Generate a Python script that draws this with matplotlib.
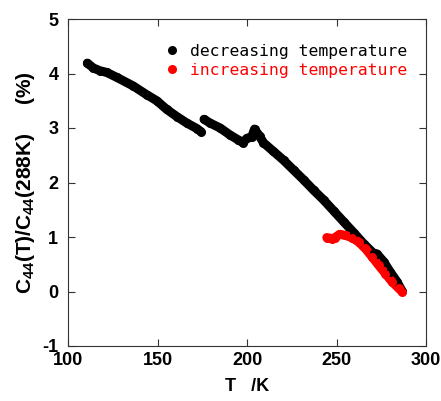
import numpy as np
import matplotlib
matplotlib.use("Agg")
import matplotlib.pyplot as plt

plt.rcParams['mathtext.fontset'] = 'custom'
plt.rcParams['mathtext.rm'] = 'Liberation Sans:bold'
plt.rcParams['mathtext.bf'] = 'Liberation Sans:bold'
plt.rcParams['mathtext.it'] = 'Liberation Sans:bold'
plt.rcParams['axes.unicode_minus'] = False

# decreasing temperature run (NaN separates the gap near 175 K)
T_dec = [110.8, 114.2, 117.9, 121.6, 127.2, 136.5, 144.0, 149.6, 155.2, 160.8,
         166.4, 172.0, 174.4, np.nan,
         176.0, 179.4, 185.0, 190.6, 195.2, 197.7, 199.9, 202.7, 204.2, 207.0,
         209.2, 214.8, 220.4, 226.0, 231.6, 237.2, 242.8, 248.4, 254.0, 259.6,
         265.1, 270.7, 272.6, 276.3, 280.0, 283.8, 286.6]
C_dec = [4.19, 4.10, 4.05, 4.02, 3.93, 3.77, 3.61, 3.50, 3.34, 3.21,
         3.09, 2.99, 2.93, np.nan,
         3.16, 3.09, 3.00, 2.87, 2.78, 2.73, 2.81, 2.84, 2.98, 2.85,
         2.73, 2.57, 2.41, 2.23, 2.05, 1.86, 1.68, 1.48, 1.28, 1.08,
         0.88, 0.70, 0.69, 0.55, 0.36, 0.18, 0.01]

# increasing temperature run
T_inc = [244.6, 247.4, 249.3, 251.7, 254.9, 258.6, 262.3, 266.1, 269.8, 273.6,
         277.3, 281.0, 284.7, 286.6]
C_inc = [0.99, 0.97, 0.99, 1.05, 1.03, 0.99, 0.91, 0.79, 0.64, 0.48,
         0.33, 0.18, 0.06, 0.00]

labels = ['decreasing temperature', 'increasing temperature']
colors = ['black', 'red']

fig = plt.figure(figsize=(4.41, 4.01), dpi=100)
ax = fig.add_axes([68/441, 1-346/401, (426-68)/441, (346-19)/401])

for T, C, col, lab in [(T_dec, C_dec, colors[0], labels[0]),
                       (T_inc, C_inc, colors[1], labels[1])]:
    ax.plot(T, C, '-', color=col, lw=6.5, solid_capstyle='round',
            solid_joinstyle='round', zorder=2)
    ax.plot(T, C, 'o', color=col, ms=6.5, mew=0, ls='none', label=lab, zorder=3)

ax.set_xlim(100, 300)
ax.set_ylim(-1, 5)
ax.set_xticks([100, 150, 200, 250, 300])
ax.set_yticks([-1, 0, 1, 2, 3, 4, 5])
ax.tick_params(direction='in', length=5, width=0.8, top=True, right=True,
               labelsize=13, color='#333333')
ax.tick_params(axis='y', pad=7)
ax.tick_params(axis='x', pad=4)
for t in ax.get_xticklabels() + ax.get_yticklabels():
    t.set_fontfamily('Liberation Sans')
    t.set_fontweight('bold')
for s in ax.spines.values():
    s.set_linewidth(0.8)
    s.set_color('#333333')

ax.set_xlabel('T   /K', fontsize=13, fontweight='bold', family='Liberation Sans',
              labelpad=7)
ax.set_ylabel(r'$\mathrm{C_{44}(T)/C_{44}(288K)}$     (%)', fontsize=15,
              fontweight='bold', family='Liberation Sans', labelpad=4)

leg = ax.legend(loc='upper left', bbox_to_anchor=(165/441, 1-44/401),
                bbox_transform=fig.transFigure, frameon=False,
                prop={'family': 'DejaVu Sans Mono', 'size': 11.8},
                handlelength=0.8, handletextpad=0.75, labelspacing=0.25,
                borderaxespad=0, borderpad=0)
for txt, col in zip(leg.get_texts(), colors):
    txt.set_color(col)

fig.savefig('out.png', dpi=100)
